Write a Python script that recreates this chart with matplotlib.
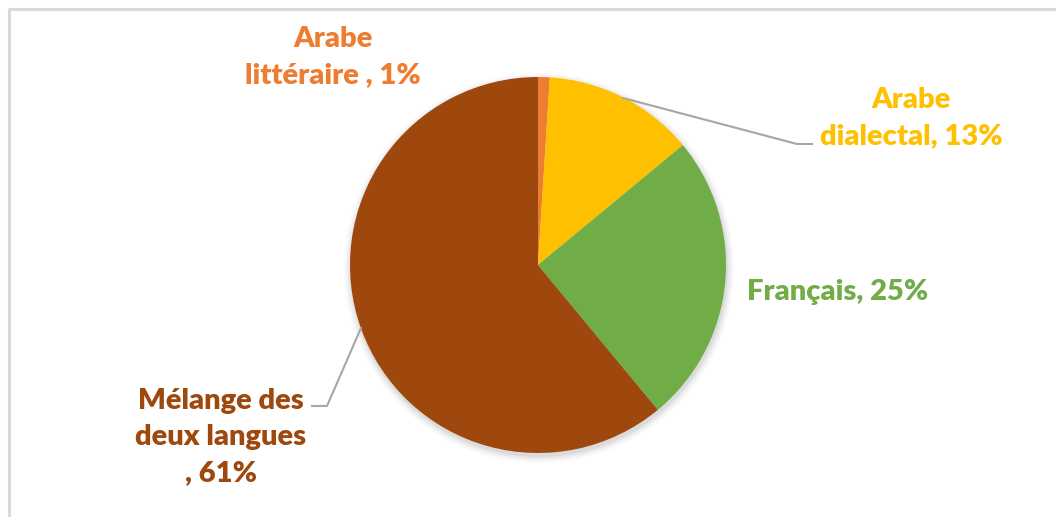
import matplotlib
matplotlib.use('Agg')
import matplotlib.pyplot as plt
from matplotlib.patches import Circle

# ── data ─────────────────────────────────────────────────────────────────────
categories = ['Arabe\nlittéraire ', 'Arabe\ndialectal', 'Français', 'Mélange des\ndeux langues\n']
shares     = [1, 13, 25, 61]
colours    = ['#ED7D31', '#FFC000', '#70AD47', '#9E480E']

W, H = 1056, 517
FONT = 'Lato'

fig = plt.figure(figsize=(W / 100, H / 100), dpi=100, facecolor='white')
ax = fig.add_axes([0, 0, 1, 1])

cx, cy, r = 538, H - 265, 188

# soft drop shadow under the pie
for k, a in enumerate([0.05, 0.04, 0.03, 0.02]):
    ax.add_patch(Circle((cx + 1, cy - 3), r + 1 + 2 * k, color='#000000',
                        alpha=a, lw=0, zorder=2))

wedges, _ = ax.pie(shares, colors=colours, startangle=90, counterclock=False,
                   center=(cx, cy), radius=r, frame=True,
                   wedgeprops=dict(linewidth=0))
for w in wedges:
    w.set_zorder(3)

ax.set_xlim(0, W)
ax.set_ylim(0, H)
ax.set_aspect('equal')
ax.axis('off')

# chart-area frame (light grey, top and left visible)
ax.plot([9, 9, W + 5], [-5, H - 9, H - 9], color='#d9d9d9', lw=2.2,
        solid_capstyle='butt', zorder=1)

# label positions (pixel coords from top-left)
label_pos = [(333, 57), (911, 118), (838, 292), (221, 437)]

for name, val, col, (lx, ly) in zip(categories, shares, colours, label_pos):
    ax.text(lx, H - ly, f'{name}, {val}%', ha='center', va='center', color=col,
            fontsize=21, fontweight='heavy', family=FONT, linespacing=1.5,
            zorder=5)

# leader lines
LEADER = '#a6a6a6'
ax.plot([623, 797, 812], [H - 98, H - 144, H - 144], color=LEADER, lw=1.5, zorder=4)
ax.plot([361, 327, 312], [H - 328, H - 406, H - 406], color=LEADER, lw=1.5, zorder=4)

fig.savefig('out.png', dpi=100, facecolor='white')
